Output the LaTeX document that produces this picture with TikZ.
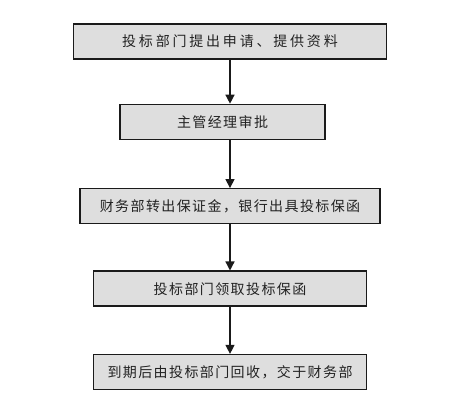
\documentclass[tikz,border=0pt]{standalone}
\usepackage{fontspec}
\usepackage{tikz}
\usetikzlibrary{
  arrows.meta,
  positioning,
  calc
}
\newfontfamily\cjk[LetterSpace=10]{Noto Sans CJK SC}
\newfontfamily\cjkwide[LetterSpace=20]{Noto Sans CJK SC}
\definecolor{bgFill}{HTML}{DEDEDE}
\definecolor{bgLine}{HTML}{1A1A1A}
\definecolor{bgText}{HTML}{222222}
\tikzset{
  stepbox/.style={
    draw=bgLine, fill=bgFill, line width=1.4pt, minimum height=35pt,
    inner sep=0pt, font=\cjk\fontsize{14}{16}\selectfont, text=bgText
  },
  flow/.style={-{Triangle[width=9pt, length=9pt]}, line width=1.3pt, bgLine}
}
\begin{document}
\begin{tikzpicture}[x=1pt, y=1pt, node distance=44pt]
  \useasboundingbox (0,0) rectangle (471,404);
  \node[stepbox, minimum width=313pt, font=\cjkwide\fontsize{14}{16}\selectfont] (apply) at (230,362.5) {投标部门提出申请、提供资料};
  \node[stepbox, minimum width=205pt, below=44pt of apply, xshift=-7.5pt] (approve) {主管经理审批};
  \node[stepbox, minimum width=300pt, below=48pt of approve, xshift=7.5pt] (deposit) {财务部转出保证金，银行出具投标保函};
  \node[stepbox, minimum width=273pt, below=46pt of deposit] (collect) {投标部门领取投标保函};
  \node[stepbox, minimum width=273pt, below=47pt of collect] (giveback) {到期后由投标部门回收，交于财务部};
  \draw[flow] (apply.south) -- (apply.south |- approve.north);
  \draw[flow] (apply.south |- approve.south) -- (apply.south |- deposit.north);
  \draw[flow] (deposit.south) -- (deposit.south |- collect.north);
  \draw[flow] (collect.south) -- (giveback.north);
\end{tikzpicture}
\end{document}
